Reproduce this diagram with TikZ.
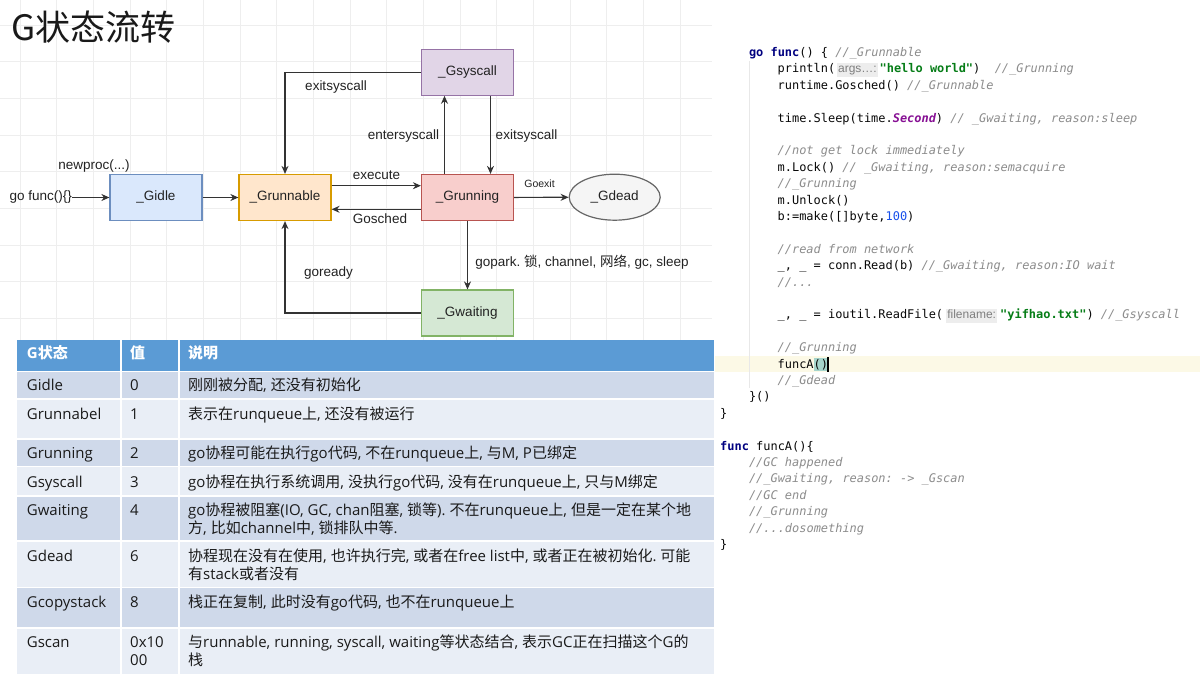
\documentclass[tikz,border=0pt]{standalone}
\usepackage{fontspec}
\setmainfont{Liberation Sans}
\setmonofont{DejaVu Sans Mono}
\newfontfamily\cjk{Noto Sans CJK SC}
\newfontfamily\tabsans{Open Sans}
\usepackage{xcolor}
\usepackage{tikz}
\usetikzlibrary{arrows.meta}
\usetikzlibrary{shapes.geometric}

% Chinese runs switch to the CJK font by themselves
\XeTeXinterchartokenstate=1
\newXeTeXintercharclass\zhclass
\newcount\zhcnt
\zhcnt="4E00
\loop
  \XeTeXcharclass\zhcnt=\zhclass
  \ifnum\zhcnt<"9FFF \advance\zhcnt by 1 \repeat
\makeatletter
\newcommand\zhon{\xdef\zhsaved{\f@family}\cjk}
\newcommand\zhoff{\fontfamily{\zhsaved}\selectfont}
\makeatother
\XeTeXinterchartoks 0 \zhclass = {\zhon}
\XeTeXinterchartoks 4095 \zhclass = {\zhon}
\XeTeXinterchartoks \zhclass 0 = {\zhoff}
\XeTeXinterchartoks \zhclass 4095 = {\zhoff}

\definecolor{gridcol}{HTML}{EEEEEE}
\definecolor{edgecol}{HTML}{333333}
\definecolor{txtcol}{HTML}{222222}
\definecolor{idlefill}{HTML}{DAE8FC}\definecolor{idleline}{HTML}{6C8EBF}
\definecolor{runnablefill}{HTML}{FFE6CC}\definecolor{runnableline}{HTML}{D79B00}
\definecolor{syscallfill}{HTML}{E1D5E7}\definecolor{syscallline}{HTML}{9673A6}
\definecolor{runningfill}{HTML}{F8CECC}\definecolor{runningline}{HTML}{B85450}
\definecolor{waitingfill}{HTML}{D5E8D4}\definecolor{waitingline}{HTML}{82B366}
\definecolor{deadfill}{HTML}{F5F5F5}\definecolor{deadline}{HTML}{666666}
\definecolor{thead}{HTML}{5B9BD5}
\definecolor{rowdark}{HTML}{CFD9EA}
\definecolor{rowlight}{HTML}{E9EEF6}
\definecolor{tabtxt}{HTML}{1A1A1A}
\definecolor{codetxt}{HTML}{080808}
\definecolor{kwcol}{HTML}{000080}
\definecolor{strcol}{HTML}{067D17}
\definecolor{cstcol}{HTML}{871094}
\definecolor{numcol}{HTML}{1750EB}
\definecolor{cmtcol}{HTML}{8C8C8C}
\definecolor{hintcol}{HTML}{7F7F7F}
\definecolor{hintbg}{HTML}{EDEDED}
\definecolor{curline}{HTML}{FCF9E6}
\definecolor{brmatch}{HTML}{A6D5CC}
\definecolor{guidecol}{HTML}{E8E8E8}

\newcommand\lblfont{\fontsize{13.5}{16}\selectfont}
\newcommand\tabfont{\tabsans\fontsize{15}{18}\selectfont}
\newcommand\codefont{\ttfamily\fontsize{11.95}{14}\selectfont}
\newcommand\gokw[1]{{\bfseries\color{kwcol}#1}}
\newcommand\gostr[1]{{\bfseries\color{strcol}#1}}
\newcommand\gocst[1]{{\bfseries\itshape\color{cstcol}#1}}
\newcommand\gonum[1]{{\color{numcol}#1}}
\newcommand\gocmt[1]{{\itshape\color{cmtcol}#1}}
\newcommand\gohint[2]{\makebox[#1]{{\setlength\fboxsep{1.2pt}\colorbox{hintbg}{\rule[-3pt]{0pt}{11.5pt}\rmfamily\fontsize{12}{14}\selectfont\color{hintcol}#2}}}}

\begin{document}
\frenchspacing
\begin{tikzpicture}[x=1pt,y=-1pt,
    state/.style={draw, line width=1.2pt, minimum width=92pt, minimum height=46pt,
      inner sep=0pt, font=\lblfont, text=txtcol, text height=9.7pt, text depth=2.8pt},
    lbl/.style={font=\lblfont, inner sep=0pt, text=txtcol, text height=9.7pt, text depth=2.8pt},
    flow/.style={draw=edgecol, line width=1.2pt, -{Stealth[length=8pt,width=7pt]}},
    cell/.style={anchor=base west, inner sep=0pt, font=\tabfont, text=tabtxt},
    thcell/.style={cell, text=white, font=\tabfont\bfseries},
    code/.style={anchor=west, inner sep=0pt, font=\codefont, text=codetxt,
      text height=9pt, text depth=0pt},
    pagetitle/.style={anchor=base west, inner sep=0pt, text=black!90,
      font=\cjk\fontsize{35}{40}\selectfont}]
  \fill[white] (0,0) rectangle (1200,675);
  \useasboundingbox (0,0) rectangle (1200,675);

  % grid behind the state diagram
  \foreach \i in {0,...,18}
    \draw[gridcol, line width=0.8pt] ({20+36.67*\i},0) -- ({20+36.67*\i},340);
  \foreach \j in {0,...,8}
    \draw[gridcol, line width=0.8pt] (0,{25+36.67*\j}) -- (712,{25+36.67*\j});

  \node[pagetitle] (title) at (11,40.5) {G状态流转};

  % states
  \node[state, fill=idlefill, draw=idleline] (idle) at (156,197.5) {\_Gidle};
  \node[state, fill=runnablefill, draw=runnableline] (runnable) at (285,197.5) {\_Grunnable};
  \node[state, fill=syscallfill, draw=syscallline] (syscall) at (467.5,72.2) {\_Gsyscall};
  \node[state, fill=runningfill, draw=runningline] (running) at (467.5,197.5) {\_Grunning};
  \node[state, ellipse, fill=deadfill, draw=deadline, minimum width=91pt] (dead) at (614.7,197.2) {\_Gdead};
  \node[state, fill=waitingfill, draw=waitingline] (waiting) at (467.5,313) {\_Gwaiting};
  \node[lbl, anchor=east] (gofunc) at (72,197.5) {go func()\{\}};

  % transitions
  \draw[flow] (gofunc.east) -- (idle.west);
  \draw[flow] (idle) -- (runnable);
  \draw[flow] (syscall.west) -| (runnable.north);
  \draw[flow] ([yshift=11.8pt]runnable.east) -- ([yshift=11.8pt]running.west);
  \draw[flow] ([yshift=-11.8pt]running.west) -- ([yshift=-11.8pt]runnable.east);
  \draw[flow] ([xshift=-23pt]running.north) -- ([xshift=-23pt]syscall.south);
  \draw[flow] ([xshift=23pt]syscall.south) -- ([xshift=23pt]running.north);
  \draw[flow] (running) -- (dead);
  \draw[flow] (running) -- (waiting);
  \draw[flow] (waiting.west) -| (runnable.south);

  \node[lbl] (lnewproc) at (94,165.7) {newproc(...)};
  \node[lbl] (lexitA) at (336,87) {exitsyscall};
  \node[lbl] (lexec) at (376.5,176.5) {execute};
  \node[lbl] (lgosched) at (380,220) {Gosched};
  \node[lbl] (lenter) at (403.5,135.7) {entersyscall};
  \node[lbl] (lexitB) at (526.5,136) {exitsyscall};
  \node[lbl, font=\fontsize{10.5}{12}\selectfont] (lgoexit) at (539.5,184.5) {Goexit};
  \node[lbl] (lgopark) at (582,263.3) {gopark. 锁, channel, 网络, gc, sleep};
  \node[lbl] (lgoready) at (328.5,272.7) {goready};

  % table of states
  \foreach \t/\b/\c in {340/370.5/thead, 371.8/398.7/rowdark, 398.7/439/rowlight,
      439/466.5/rowdark, 466.5/495.8/rowlight, 495.8/541/rowdark, 541/587.5/rowlight,
      587.5/628/rowdark, 628/673.5/rowlight}
    \fill[\c] (17,\t) rectangle (714,\b);
  \foreach \y in {398.7,439,466.5,495.8,541,587.5,628}
    \draw[white, line width=1.6pt] (17,\y) -- (714,\y);
  \draw[white, line width=1.6pt] (120.7,340) -- (120.7,673.5);
  \draw[white, line width=1.6pt] (179,340) -- (179,673.5);

  \node[thcell] (h1) at (26.7,358.8) {G状态};
  \node[thcell] (h2) at (130,358.8) {值};
  \node[thcell] (h3) at (188,358.8) {说明};

  \node[cell] (n1) at (26.7,390.5) {Gidle};
  \node[cell] (v1) at (130,390.5) {0};
  \node[cell] (d1) at (188,390.5) {刚刚被分配, 还没有初始化};
  \node[cell] (n2) at (26.7,419.5) {Grunnabel};
  \node[cell] (v2) at (130,419.5) {1};
  \node[cell] (d2) at (188,419.5) {表示在runqueue上, 还没有被运行};
  \node[cell] (n3) at (26.7,458.8) {Grunning};
  \node[cell] (v3) at (130,458.8) {2};
  \node[cell] (d3) at (188,458.8) {go协程可能在执行go代码, 不在runqueue上, 与M, P已绑定};
  \node[cell] (n4) at (26.7,487.2) {Gsyscall};
  \node[cell] (v4) at (130,487.2) {3};
  \node[cell] (d4) at (188,487.2) {go协程在执行系统调用, 没执行go代码, 没有在runqueue上, 只与M绑定};
  \node[cell] (n5) at (26.7,515.5) {Gwaiting};
  \node[cell] (v5) at (130,515.5) {4};
  \node[cell] (d5) at (188,515.5) {go协程被阻塞(IO, GC, chan阻塞, 锁等). 不在runqueue上, 但是一定在某个地};
  \node[cell] (d5b) at (188,533.2) {方, 比如channel中, 锁排队中等.};
  \node[cell] (n6) at (26.7,561.2) {Gdead};
  \node[cell] (v6) at (130,561.2) {6};
  \node[cell] (d6) at (188,561.2) {协程现在没有在使用, 也许执行完, 或者在free list中, 或者正在被初始化. 可能};
  \node[cell] (d6b) at (188,579.5) {有stack或者没有};
  \node[cell] (n7) at (26.7,607.2) {Gcopystack};
  \node[cell] (v7) at (130,607.2) {8};
  \node[cell] (d7) at (188,607.2) {栈正在复制, 此时没有go代码, 也不在runqueue上};
  \node[cell] (n8) at (26.7,647.2) {Gscan};
  \node[cell] (v8) at (130,647.2) {0x10};
  \node[cell] (v8b) at (130,665.5) {00};
  \node[cell] (d8) at (188,647.2) {与runnable, running, syscall, waiting等状态结合, 表示GC正在扫描这个G的};
  \node[cell] (d8b) at (188,665.5) {栈};

  % code listing
  \fill[curline] (715,356) rectangle (1200,372);
  \fill[brmatch] (813.5,358) rectangle (827.5,370.5);
  \draw[guidecol, line width=0.8pt] (749,61) -- (749,388);
  \node[code] (ln0) at (748.8,52) {\gokw{go} \gokw{func}() \{ \gocmt{//\_Grunnable}};
  \node[code] (ln1) at (777.5,68.4) {println(\gohint{44.4pt}{args…:}\gostr{"hello world"})\ \ \gocmt{//\_Grunning}};
  \node[code] (ln2) at (777.5,84.8) {runtime.Gosched() \gocmt{//\_Grunnable}};
  \node[code] (ln4) at (777.5,117.6) {time.Sleep(time.\gocst{Second}) \gocmt{// \_Gwaiting, reason:sleep}};
  \node[code] (ln6) at (777.5,150.4) {\gocmt{//not get lock immediately}};
  \node[code] (ln7) at (777.5,166.8) {m.Lock() \gocmt{// \_Gwaiting, reason:semacquire}};
  \node[code] (ln8) at (777.5,183.2) {\gocmt{//\_Grunning}};
  \node[code] (ln9) at (777.5,199.6) {m.Unlock()};
  \node[code] (ln10) at (777.5,216) {b:=make([]byte,\gonum{100})};
  \node[code] (ln12) at (777.5,248.8) {\gocmt{//read from network}};
  \node[code] (ln13) at (777.5,265.2) {\_, \_ = conn.Read(b) \gocmt{//\_Gwaiting, reason:IO wait}};
  \node[code] (ln14) at (777.5,281.6) {\gocmt{//...}};
  \node[code] (ln16) at (777.5,314.4) {\_, \_ = ioutil.ReadFile(\gohint{57pt}{filename:}\gostr{"yifhao.txt"}) \gocmt{//\_Gsyscall}};
  \node[code] (ln18) at (777.5,347.2) {\gocmt{//\_Grunning}};
  \node[code] (ln19) at (777.5,363.6) {funcA()};
  \draw[black, line width=1.5pt] (828,357) -- (828,372);
  \node[code] (ln20) at (777.5,380) {\gocmt{//\_Gdead}};
  \node[code] (ln21) at (748.8,396.4) {\}()};
  \node[code] (ln22) at (720,412.8) {\}};
  \node[code] (ln24) at (720,445.6) {\gokw{func} funcA()\{};
  \node[code] (ln25) at (748.8,462) {\gocmt{//GC happened}};
  \node[code] (ln26) at (748.8,478.4) {\gocmt{//\_Gwaiting, reason: -> \_Gscan}};
  \node[code] (ln27) at (748.8,494.8) {\gocmt{//GC end}};
  \node[code] (ln28) at (748.8,511.2) {\gocmt{//\_Grunning}};
  \node[code] (ln29) at (748.8,527.6) {\gocmt{//...dosomething}};
  \node[code] (ln30) at (720,544) {\}};
\end{tikzpicture}
\end{document}
